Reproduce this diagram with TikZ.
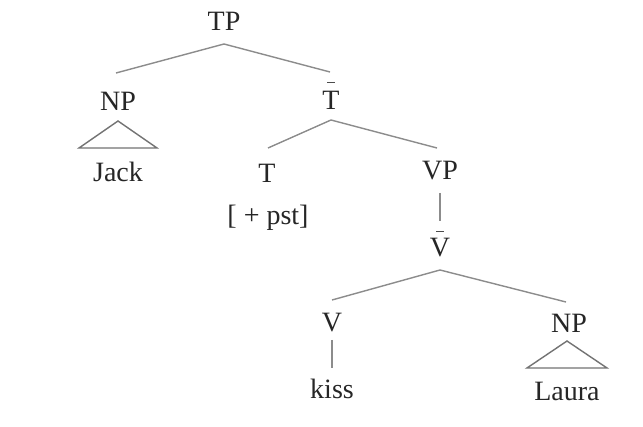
\documentclass[tikz,border=0pt]{standalone}
\usepackage{fontspec}
\setmainfont{Liberation Serif}
\begin{document}
\begin{tikzpicture}[x=1pt,y=-1pt,
  lab/.style={font=\fontsize{28}{30}\selectfont, text=black!85, inner sep=0pt, anchor=center},
  edge/.style={draw=black!45, line width=1.4pt},
  barline/.style={draw=black!70, line width=1.3pt},
  tri/.style={draw=black!55, line width=1.4pt}]
\useasboundingbox[fill=white] (0,0) rectangle (643,427);
\node[lab] (tp) at (224,21) {TP};
\node[lab] (np1) at (118,101) {NP};
\node[lab] (tbar) at (331,100) {T};
\node[lab] (jack) at (118,172) {Jack};
\node[lab] (t) at (267,173) {T};
\node[lab] (pst) at (268,218) {[ + pst]};
\node[lab] (vp) at (440,171) {VP};
\node[lab] (vbar) at (440,248) {V};
\node[lab] (v) at (332,323) {V};
\node[lab] (np2) at (569,323) {NP};
\node[lab] (kiss) at (332,389) {kiss};
\node[lab] (laura) at (567,391) {Laura};
% bars of the bar-level labels
\draw[barline] ([xshift=-4pt,yshift=8pt]tbar.north) -- ([xshift=4pt,yshift=8pt]tbar.north);
\draw[barline] ([xshift=-4pt,yshift=7pt]vbar.north) -- ([xshift=4pt,yshift=7pt]vbar.north);
% coordinates for branch points
\coordinate (tpb) at (224,44);
\coordinate (np1t) at (116,73);
\coordinate (tbart) at (330,72);
\coordinate (tbarb) at (331,120);
\coordinate (tt) at (268,148);
\coordinate (vpt) at (437,148);
\coordinate (vpb) at (440,193);
\coordinate (vbart) at (440,221);
\coordinate (vbarb) at (440,270);
\coordinate (vt) at (332,300);
\coordinate (np2t) at (566,302);
\coordinate (vb) at (332,340);
\coordinate (kisst) at (332,368);
\draw[edge] (np1t) -- (tpb) -- (tbart);
\draw[edge] (tt) -- (tbarb) -- (vpt);
\draw[edge] (vpb) -- (vbart);
\draw[edge] (vt) -- (vbarb) -- (np2t);
\draw[edge] (vb) -- (kisst);
\draw[tri] (118,121) -- (79,148) -- (157,148) -- cycle;
\draw[tri] (567,341) -- (527,368) -- (607,368) -- cycle;
\end{tikzpicture}
\end{document}
